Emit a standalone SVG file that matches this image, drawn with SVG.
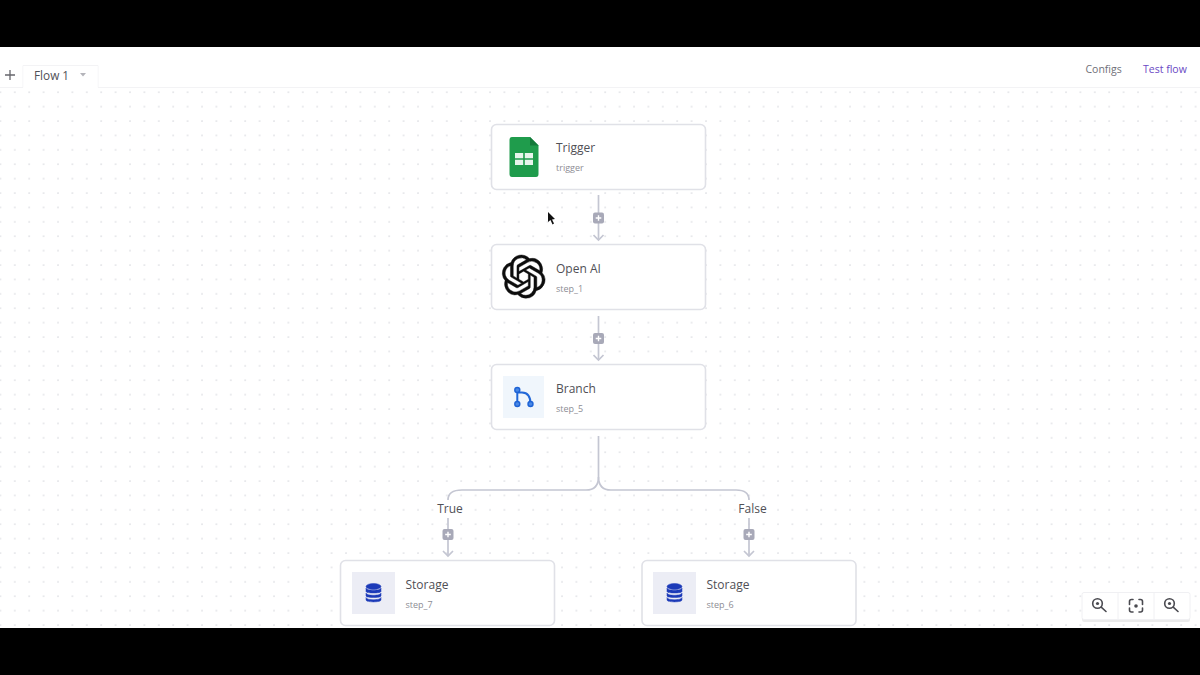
<svg xmlns="http://www.w3.org/2000/svg" width="1200" height="675" viewBox="0 0 1200 675">
<style>
text{font-family:"Open Sans","Noto Sans",sans-serif}
.card{fill:#fff;stroke:#e0e1e7;stroke-width:1.6}
.t{font-size:12px;fill:#505056}
.s{font-size:9px;fill:#8d8d94}
.lbl{font-size:12px;fill:#505056;text-anchor:middle}
.wire{fill:none;stroke:#c4c6d2;stroke-width:1.7}
.plus{fill:#a8a9b8}
.pl{stroke:#fff;stroke-width:1.4}
.db{fill:#1c3ab8;stroke:#1c3ab8;stroke-width:.5}
.zi{fill:none;stroke:#4a4a50;stroke-width:1.6;stroke-linecap:round}
</style>
<defs>
<pattern id="dots" x="13.8" y="4.8" width="14.4" height="14.4" patternUnits="userSpaceOnUse">
<circle cx="1" cy="1" r="0.8" fill="#d8d9de"/>
</pattern>
<marker id="arr" markerWidth="10" markerHeight="12" refX="8" refY="6" orient="auto" markerUnits="userSpaceOnUse" viewBox="0 0 10 12">
<path d="M3 1 L8 6 L3 11" fill="none" stroke="#c4c6d2" stroke-width="1.7"/>
</marker>
<g id="plusbox"><rect x="-5.500" y="-5.500" width="11" height="11" rx="2" class="plus"/><path d="M-2.800 0H2.800M0-2.800V2.800" class="pl"/></g>
<g id="dbicon">
<ellipse cx="0" cy="-6.500" rx="7.500" ry="3" class="db"/>
<path d="M-7.500-5V-1.500C-7.500 0.500 7.500 0.500 7.500-1.500V-5C7.500-2 -7.500-2 -7.500-5Z" class="db"/>
<path d="M-7.500 0V3C-7.500 5 7.500 5 7.500 3V0C7.500 3 -7.500 3 -7.500 0Z" class="db"/>
<path d="M-7.500 4.500V7C-7.500 9.500 7.500 9.500 7.500 7V4.500C7.500 7.500 -7.500 7.500 -7.500 4.500Z" class="db"/>
</g>
<g id="zoomi"><circle cx="-1.500" cy="-1.500" r="4.800" class="zi"/><circle cx="-1.500" cy="-1.500" r="1.600" fill="#4a4a50"/><path d="M2.200 2.200L7 6.500" class="zi" stroke-width="2"/></g>
</defs>
<rect width="1200" height="675" fill="#fff"/>
<rect x="0" y="88" width="1200" height="540" fill="url(#dots)"/>
<rect width="1200" height="47" fill="#000"/>
<rect y="628" width="1200" height="47" fill="#000"/>
<g id="toolbar">
<path d="M0 87.500H23V65.500H98V87.500H1200" fill="none" stroke="#f3f3f5" stroke-width="1"/>
<rect x="23.500" y="66" width="74" height="22" fill="#fff"/>
<path d="M5 75H15M10 70V80" stroke="#66666c" stroke-width="1.300"/>
<text x="34" y="80" font-size="11.800" fill="#505056">Flow 1</text>
<path d="M80 73H86L83 76.500Z" fill="#b4b4ba"/>
<text x="1085.500" y="73" font-size="10.500" fill="#6f6f78">Configs</text>
<text x="1143" y="73" font-size="10.500" fill="#6a48c4">Test flow</text>
</g>
<g id="connectors">
<path class="wire" d="M598.500 195V240" marker-end="url(#arr)"/>
<path class="wire" d="M598.500 316V360" marker-end="url(#arr)"/>
<path class="wire" d="M598.500 436V477Q598.500 490 586 490H462Q448 490 448 500"/>
<path class="wire" d="M598.500 477Q598.500 490 611 490H736Q749 490 749 500"/>
<path class="wire" d="M448 518V556" marker-end="url(#arr)"/>
<path class="wire" d="M749 518V556" marker-end="url(#arr)"/>
<use href="#plusbox" x="598.500" y="218"/>
<use href="#plusbox" x="598.500" y="338.500"/>
<use href="#plusbox" x="448" y="534.500"/>
<use href="#plusbox" x="749" y="534.500"/>
<text class="lbl" x="450" y="512.500">True</text>
<text class="lbl" x="752.500" y="512.500">False</text>
</g>
<g id="trigger">
<rect class="card" x="491.500" y="124.500" width="214" height="65" rx="5"/>
<path d="M512 137H530L538.500 145.500V174Q538.500 177 536 177H512Q509.500 177 509.500 174V140Q509.500 137 512 137Z" fill="#1f9c4c"/>
<path d="M530 137L538.500 145.500H530Z" fill="#137a3a"/>
<path d="M515 153H533V165H515Z" fill="#e8f5ec"/>
<path d="M515 159H533M524 153V165" stroke="#1f9c4c" stroke-width="1.600"/>
<text class="t" x="556" y="152">Trigger</text>
<text class="s" x="556" y="171">trigger</text>
</g>
<g id="openai">
<rect class="card" x="491.500" y="244.500" width="214" height="65" rx="5"/>
<path transform="translate(502 255) scale(1.8)" fill="#0d0d0d" stroke="#0d0d0d" stroke-width=".25" d="M22.2819 9.8211a5.9847 5.9847 0 0 0-.5157-4.9108 6.0462 6.0462 0 0 0-6.5098-2.9A6.0651 6.0651 0 0 0 4.9807 4.1818a5.9847 5.9847 0 0 0-3.9977 2.9 6.0462 6.0462 0 0 0 .7427 7.0966 5.98 5.98 0 0 0 .511 4.9107 6.051 6.051 0 0 0 6.5146 2.9001A5.9847 5.9847 0 0 0 13.2599 24a6.0557 6.0557 0 0 0 5.7718-4.2058 5.9894 5.9894 0 0 0 3.9977-2.9001 6.0557 6.0557 0 0 0-.7475-7.0729zm-9.022 12.6081a4.4755 4.4755 0 0 1-2.8764-1.0408l.1419-.0804 4.7783-2.7582a.7948.7948 0 0 0 .3927-.6813v-6.7369l2.02 1.1686a.071.071 0 0 1 .038.052v5.5826a4.504 4.504 0 0 1-4.4945 4.4944zm-9.6607-4.1254a4.4708 4.4708 0 0 1-.5346-3.0137l.142.0852 4.783 2.7582a.7712.7712 0 0 0 .7806 0l5.8428-3.3685v2.3324a.0804.0804 0 0 1-.0332.0615L9.74 19.9502a4.4992 4.4992 0 0 1-6.1408-1.6464zM2.3408 7.8956a4.485 4.485 0 0 1 2.3655-1.9728V11.6a.7664.7664 0 0 0 .3879.6765l5.8144 3.3543-2.0201 1.1685a.0757.0757 0 0 1-.071 0l-4.8303-2.7865A4.504 4.504 0 0 1 2.3408 7.872zm16.5963 3.8558L13.1038 8.364 15.1192 7.2a.0757.0757 0 0 1 .071 0l4.8303 2.7913a4.4944 4.4944 0 0 1-.6765 8.1042v-5.6772a.79.79 0 0 0-.407-.667zm2.0107-3.0231l-.142-.0852-4.7735-2.7818a.7759.7759 0 0 0-.7854 0L9.409 9.2297V6.8974a.0662.0662 0 0 1 .0284-.0615l4.8303-2.7866a4.4992 4.4992 0 0 1 6.6802 4.66zM8.3065 12.863l-2.02-1.1638a.0804.0804 0 0 1-.038-.0567V6.0742a4.4992 4.4992 0 0 1 7.3757-3.4537l-.142.0805L8.704 5.459a.7948.7948 0 0 0-.3927.6813zm1.0976-2.3654l2.602-1.4998 2.6069 1.4998v2.9994l-2.5974 1.4997-2.6067-1.4997Z"/>
<text class="t" x="556" y="273">Open AI</text>
<text class="s" x="556" y="292">step_1</text>
</g>
<g id="branch">
<rect class="card" x="491.500" y="364.500" width="214" height="65" rx="5"/>
<rect x="503" y="376" width="41" height="42" fill="#f0f6fc"/>
<path d="M517.300 390V404M517.300 392.500H522Q530.500 392.500 530.500 404" fill="none" stroke="#2268d8" stroke-width="2"/>
<circle cx="517.300" cy="390" r="2.500" fill="#4a88e4" stroke="#1e63d6" stroke-width="1.400"/>
<circle cx="517.300" cy="404" r="2.500" fill="#4a88e4" stroke="#1e63d6" stroke-width="1.400"/>
<circle cx="530.500" cy="404" r="2.500" fill="#4a88e4" stroke="#1e63d6" stroke-width="1.400"/>
<text class="t" x="556" y="393">Branch</text>
<text class="s" x="556" y="412">step_5</text>
</g>
<g id="storage7">
<rect class="card" x="340.500" y="560.500" width="214" height="65" rx="5"/>
<rect x="352" y="572" width="43" height="42" fill="#ecedf5"/>
<use href="#dbicon" x="373.500" y="593"/>
<text class="t" x="405.500" y="589">Storage</text>
<text class="s" x="405.500" y="608">step_7</text>
</g>
<g id="storage6">
<rect class="card" x="642" y="560.500" width="214" height="65" rx="5"/>
<rect x="653" y="572" width="43" height="42" fill="#ecedf5"/>
<use href="#dbicon" x="674.500" y="593"/>
<text class="t" x="706.500" y="589">Storage</text>
<text class="s" x="706.500" y="608">step_6</text>
</g>
<g id="zoom-controls">
<rect x="1082" y="593" width="108" height="27" rx="2" fill="#000" opacity=".08" transform="translate(0 2)"/>
<rect x="1082" y="592.500" width="108" height="27" rx="2" fill="#fff" stroke="#f0f0f3"/>
<path d="M1118 593V619M1154 593V619" stroke="#f0f0f3"/>
<use href="#zoomi" x="1099" y="605"/>
<use href="#zoomi" x="1171" y="605"/>
<path d="M1129.500 604.500V601.500Q1129.500 599.500 1131.500 599.500H1133M1139 599.500H1140.500Q1142.500 599.500 1142.500 601.500V604.500M1142.500 608V610Q1142.500 612 1140.500 612H1139M1133 612H1131.500Q1129.500 612 1129.500 610V608" class="zi"/>
<circle cx="1136" cy="606" r="1.800" fill="#4a4a50"/>
</g>
<path id="cursor" d="M548 212V222L550.500 220L552.500 224.500L554 223.500L552 219.500L555 219Z" fill="#111"/>
</svg>
